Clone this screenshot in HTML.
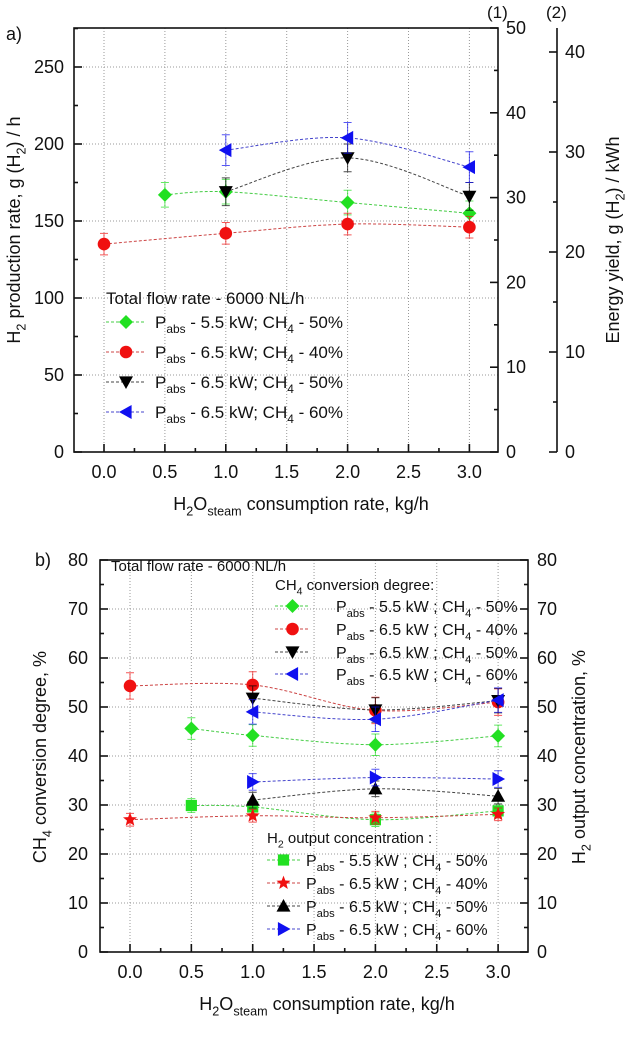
<!DOCTYPE html>
<html><head><meta charset="utf-8">
<style>
html,body{margin:0;padding:0;background:#fff;}
svg{display:block;font-family:"Liberation Sans",Arial,sans-serif;}
</style></head>
<body>
<svg id="chart" width="629" height="1058" viewBox="0 0 629 1058" xmlns="http://www.w3.org/2000/svg">
<g id="top"></g>
<g id="bot"></g>
</svg>
<script>
// ---- Chart a data ----
const xTicksA = [0,0.5,1,1.5,2,2.5,3];
const xTickLabelsA = ["0.0","0.5","1.0","1.5","2.0","2.5","3.0"];
const yTicksA = [0,50,100,150,200,250];
const y1Ticks = [0,10,20,30,40,50];
const y2Ticks = [0,10,20,30,40];
const aGreenX = [0.5,1,2,3];
const aGreenY = [167,169,162,155];
const aRedX = [0,1,2,3];
const aRedY = [135,142,148,146];
const aBlackX = [1,2,3];
const aBlackY = [169,191,166];
const aBlueX = [1,2,3];
const aBlueY = [196,204,185];
const aErr = [8,7,9,10];
// ---- Chart b data ----
const yTicksB = [0,10,20,30,40,50,60,70,80];
const bGreenX = [0.5,1,2,3];
const bGreenY = [45.6,44.2,42.3,44.1];
const bRedX = [0,1,2,3];
const bRedY = [54.3,54.5,49.3,51.0];
const bBlackX = [1,2,3];
const bBlackY = [51.8,49.4,51.3];
const bBlueX = [1,2,3];
const bBlueY = [49.0,47.5,51.4];
const hGreenX = [0.5,1,2,3];
const hGreenY = [29.9,29.6,27.0,28.8];
const hRedX = [0,1,2,3];
const hRedY = [27.0,27.8,27.4,28.1];
const hBlackX = [1,2,3];
const hBlackY = [31.0,33.3,31.8];
const hBlueX = [1,2,3];
const hBlueY = [34.7,35.6,35.3];
const bErr = [2.2,2.7,2.5,2.5,1.4,1.3,1.6,1.7];

const NS="http://www.w3.org/2000/svg";
function mk(parent,tag,attrs){const e=document.createElementNS(NS,tag);for(const k in attrs)e.setAttribute(k,attrs[k]);parent.appendChild(e);return e;}
function txt(parent,x,y,parts,size,anchor,rot){
  const t=mk(parent,'text',{x:x,y:y,'font-size':size,'text-anchor':anchor||'start',fill:'#111'});
  if(rot)t.setAttribute('transform','rotate(-90 '+x+' '+y+')');
  parts.forEach(p=>{
    const s=mk(t,'tspan',{});
    if(p[1]==='sub'){s.setAttribute('dy',size*0.3);s.setAttribute('font-size',size*0.7);}
    else if(p[1]==='up'){s.setAttribute('dy',-size*0.3);}
    s.textContent=p[0];
  });
  return t;
}
function smooth(pts){
  if(pts.length<2)return '';
  let d='M'+pts[0][0]+','+pts[0][1];
  for(let i=0;i<pts.length-1;i++){
    const p0=pts[i-1]||pts[i],p1=pts[i],p2=pts[i+1],p3=pts[i+2]||p2;
    const c1=[p1[0]+(p2[0]-p0[0])/6,p1[1]+(p2[1]-p0[1])/6];
    const c2=[p2[0]-(p3[0]-p1[0])/6,p2[1]-(p3[1]-p1[1])/6];
    d+=' C'+c1[0]+','+c1[1]+' '+c2[0]+','+c2[1]+' '+p2[0]+','+p2[1];
  }
  return d;
}
function marker(g,shape,x,y,color,s){
  let e;
  if(shape==='diamond')e=mk(g,'polygon',{points:`${x},${y-s} ${x+s},${y} ${x},${y+s} ${x-s},${y}`});
  else if(shape==='circle')e=mk(g,'circle',{cx:x,cy:y,r:s*0.9});
  else if(shape==='down')e=mk(g,'polygon',{points:`${x-s},${y-s*0.8} ${x+s},${y-s*0.8} ${x},${y+s}`});
  else if(shape==='up')e=mk(g,'polygon',{points:`${x-s},${y+s*0.8} ${x+s},${y+s*0.8} ${x},${y-s}`});
  else if(shape==='left')e=mk(g,'polygon',{points:`${x+s*0.8},${y-s} ${x+s*0.8},${y+s} ${x-s},${y}`});
  else if(shape==='right')e=mk(g,'polygon',{points:`${x-s*0.8},${y-s} ${x-s*0.8},${y+s} ${x+s},${y}`});
  else if(shape==='square')e=mk(g,'rect',{x:x-s*0.8,y:y-s*0.8,width:s*1.6,height:s*1.6});
  else if(shape==='star'){let p=[];for(let i=0;i<10;i++){const r=i%2?s*0.45:s*1.05;const a=-Math.PI/2+i*Math.PI/5;p.push((x+r*Math.cos(a)).toFixed(2)+','+(y+r*Math.sin(a)).toFixed(2));}e=mk(g,'polygon',{points:p.join(' ')});}
  e.setAttribute('fill',color);
  
  
  return e;
}
function series(g,name,xs,ys,err,X,Y,shape,color,lineColor){
  const sg=mk(g,'g',{});
  
  
  const pts=xs.map((v,i)=>[X(v),Y(ys[i])]);
  const path=mk(sg,'path',{d:smooth(pts),fill:'none',stroke:lineColor,'stroke-width':1,'stroke-dasharray':'3,2'});
  
  
  xs.forEach((v,i)=>{
    const x=X(v),yt=Y(ys[i]+err),yb=Y(ys[i]-err);
    const eb=mk(sg,'path',{d:`M${x},${yt}V${yb}M${x-4},${yt}H${x+4}M${x-4},${yb}H${x+4}`,stroke:color,'stroke-width':1,fill:'none','stroke-opacity':0.7});
    
    
  });
  pts.forEach(p=>marker(sg,shape,p[0],p[1],color,7));
}
function legendRow(g,name,x0,x1,y,shape,color,lineColor,tx,parts,size){
  const lg=mk(g,'g',{});
  
  
  mk(lg,'line',{x1:x0,x2:x1,y1:y,y2:y,stroke:lineColor,'stroke-width':1,'stroke-dasharray':'3,2'});
  marker(lg,shape,(x0+x1)/2,y,color,7);
  txt(lg,tx,y+6,parts,size,'start');
}
function legParts(p,ch){return [['P'],['abs','sub'],[' - '+p+' kW; CH','up'],['4','sub'],[' - '+ch+'%','up']];}
function legPartsB(p,ch){return [['P'],['abs','sub'],[' - '+p+' kW ; CH','up'],['4','sub'],[' - '+ch+'%','up']];}

// ================= Chart a =================
(function(){
  const g=document.getElementById('top');
  const L=74,R=498,T=28,B=452;
  const X=v=>104+v*121.8;
  const Y=v=>452-v*1.54;
  const Y1=v=>452-v*8.48;
  const Y2=v=>452-v*10.0;
  const grid=mk(g,'g',{stroke:'#999','stroke-width':1,'stroke-dasharray':'1,2'});
  
  
  xTicksA.forEach(v=>mk(grid,'line',{x1:X(v),x2:X(v),y1:T,y2:B}));
  yTicksA.forEach(v=>{if(v>0)mk(grid,'line',{x1:L,x2:R,y1:Y(v),y2:Y(v)});});
  const ax=mk(g,'g',{stroke:'#111','stroke-width':1.6,fill:'none'});
  
  
  mk(ax,'rect',{x:L,y:T,width:R-L,height:B-T});
  xTicksA.forEach(v=>mk(ax,'line',{x1:X(v),x2:X(v),y1:B,y2:B-8}));
  xTicksA.slice(0,-1).forEach(v=>mk(ax,'line',{x1:X(v+0.25),x2:X(v+0.25),y1:B,y2:B-4}));
  yTicksA.forEach(v=>mk(ax,'line',{x1:L,x2:L+8,y1:Y(v),y2:Y(v)}));
  yTicksA.forEach(v=>{if(Y(v+25)>T)mk(ax,'line',{x1:L,x2:L+4,y1:Y(v+25),y2:Y(v+25)});});
  y1Ticks.forEach(v=>mk(ax,'line',{x1:R,x2:R-8,y1:Y1(v),y2:Y1(v)}));
  y1Ticks.slice(0,-1).forEach(v=>mk(ax,'line',{x1:R,x2:R-4,y1:Y1(v+5),y2:Y1(v+5)}));
  const A2=557;
  mk(ax,'line',{x1:A2,x2:A2,y1:T,y2:B});
  y2Ticks.forEach(v=>mk(ax,'line',{x1:A2,x2:A2-8,y1:Y2(v),y2:Y2(v)}));
  y2Ticks.forEach(v=>{if(Y2(v+5)>T)mk(ax,'line',{x1:A2,x2:A2-4,y1:Y2(v+5),y2:Y2(v+5)});});
  const lab=mk(g,'g',{});
  
  
  xTicksA.forEach((v,i)=>txt(lab,X(v),478,[[xTickLabelsA[i]]],18,'middle'));
  yTicksA.forEach(v=>txt(lab,64,Y(v)+6,[[String(v)]],18,'end'));
  y1Ticks.forEach(v=>txt(lab,506,Y1(v)+6,[[String(v)]],18,'start'));
  y2Ticks.forEach(v=>txt(lab,565,Y2(v)+6,[[String(v)]],18,'start'));
  txt(g,487,18,[['(1)']],17,'start');
  txt(g,546,18,[['(2)']],17,'start');
  txt(g,6,40,[['a)']],18,'start');
  txt(g,301,510,[['H'],['2','sub'],['O','up'],['steam','sub'],[' consumption rate, kg/h','up']],18,'middle');
  txt(g,20,230,[['H'],['2','sub'],[' production rate, g (H','up'],['2','sub'],[') / h','up']],18,'middle',true);
  txt(g,619,240,[['Energy yield, g (H'],['2','sub'],[') / kWh','up']],18,'middle',true);
  series(g,'series-a-5.5kw-50',aGreenX,aGreenY,aErr[0],X,Y,'diamond','#22e022','#4c4');
  series(g,'series-a-6.5kw-40',aRedX,aRedY,aErr[1],X,Y,'circle','#f01010','#c44');
  series(g,'series-a-6.5kw-50',aBlackX,aBlackY,aErr[2],X,Y,'down','#000','#444');
  series(g,'series-a-6.5kw-60',aBlueX,aBlueY,aErr[3],X,Y,'left','#1010f0','#44c');
  const lg=mk(g,'g',{});
  
  
  txt(lg,106,304,[['Total flow rate - 6000 NL/h']],17,'start');
  legendRow(lg,'legend-entry-5.5kw-50',106,146,322,'diamond','#22e022','#4c4',155,legParts('5.5','50'),17);
  legendRow(lg,'legend-entry-6.5kw-40',106,146,352,'circle','#f01010','#c44',155,legParts('6.5','40'),17);
  legendRow(lg,'legend-entry-6.5kw-50',106,146,382,'down','#000','#444',155,legParts('6.5','50'),17);
  legendRow(lg,'legend-entry-6.5kw-60',106,146,412,'left','#1010f0','#44c',155,legParts('6.5','60'),17);
})();

// ================= Chart b =================
(function(){
  const g=document.getElementById('bot');
  const L=100,R=528,T=560,B=952;
  const X=v=>130+v*122.7;
  const Y=v=>952-v*4.9;
  const grid=mk(g,'g',{stroke:'#999','stroke-width':1,'stroke-dasharray':'1,2'});
  
  
  xTicksA.forEach(v=>mk(grid,'line',{x1:X(v),x2:X(v),y1:T,y2:B}));
  yTicksB.forEach(v=>{if(v>0&&v<80)mk(grid,'line',{x1:L,x2:R,y1:Y(v),y2:Y(v)});});
  const ax=mk(g,'g',{stroke:'#111','stroke-width':1.6,fill:'none'});
  
  
  mk(ax,'rect',{x:L,y:T,width:R-L,height:B-T});
  xTicksA.forEach(v=>mk(ax,'line',{x1:X(v),x2:X(v),y1:B,y2:B-8}));
  xTicksA.slice(0,-1).forEach(v=>mk(ax,'line',{x1:X(v+0.25),x2:X(v+0.25),y1:B,y2:B-4}));
  yTicksB.forEach(v=>{mk(ax,'line',{x1:L,x2:L+8,y1:Y(v),y2:Y(v)});mk(ax,'line',{x1:R,x2:R-8,y1:Y(v),y2:Y(v)});});
  yTicksB.slice(0,-1).forEach(v=>{mk(ax,'line',{x1:L,x2:L+4,y1:Y(v+5),y2:Y(v+5)});mk(ax,'line',{x1:R,x2:R-4,y1:Y(v+5),y2:Y(v+5)});});
  const lab=mk(g,'g',{});
  
  
  xTicksA.forEach((v,i)=>txt(lab,X(v),978,[[xTickLabelsA[i]]],18,'middle'));
  yTicksB.forEach(v=>txt(lab,88,Y(v)+6,[[String(v)]],18,'end'));
  yTicksB.forEach(v=>txt(lab,537,Y(v)+6,[[String(v)]],18,'start'));
  txt(g,35,566,[['b)']],18,'start');
  txt(g,327,1010,[['H'],['2','sub'],['O','up'],['steam','sub'],[' consumption rate, kg/h','up']],18,'middle');
  txt(g,46,757,[['CH'],['4','sub'],[' conversion degree, %','up']],18,'middle',true);
  txt(g,585,757,[['H'],['2','sub'],[' output concentration, %','up']],18,'middle',true);
  series(g,'series-b-conv-5.5kw-50',bGreenX,bGreenY,bErr[0],X,Y,'diamond','#22e022','#4c4');
  series(g,'series-b-conv-6.5kw-40',bRedX,bRedY,bErr[1],X,Y,'circle','#f01010','#c44');
  series(g,'series-b-conv-6.5kw-50',bBlackX,bBlackY,bErr[2],X,Y,'down','#000','#444');
  series(g,'series-b-conv-6.5kw-60',bBlueX,bBlueY,bErr[3],X,Y,'left','#1010f0','#44c');
  series(g,'series-b-h2-5.5kw-50',hGreenX,hGreenY,bErr[4],X,Y,'square','#22e022','#4c4');
  series(g,'series-b-h2-6.5kw-40',hRedX,hRedY,bErr[5],X,Y,'star','#f01010','#c44');
  series(g,'series-b-h2-6.5kw-50',hBlackX,hBlackY,bErr[6],X,Y,'up','#000','#444');
  series(g,'series-b-h2-6.5kw-60',hBlueX,hBlueY,bErr[7],X,Y,'right','#1010f0','#44c');
  const lg=mk(g,'g',{});
  
  
  txt(lg,111,571,[['Total flow rate - 6000 NL/h']],15,'start');
  txt(lg,275,590,[['CH'],['4','sub'],[' conversion degree:','up']],15,'start');
  legendRow(lg,'legend-entry-conv-5.5kw-50',275,310,606,'diamond','#22e022','#4c4',336,legPartsB('5.5','50'),16);
  legendRow(lg,'legend-entry-conv-6.5kw-40',275,310,629,'circle','#f01010','#c44',336,legPartsB('6.5','40'),16);
  legendRow(lg,'legend-entry-conv-6.5kw-50',275,310,652,'down','#000','#444',336,legPartsB('6.5','50'),16);
  legendRow(lg,'legend-entry-conv-6.5kw-60',275,310,674,'left','#1010f0','#44c',336,legPartsB('6.5','60'),16);
  txt(lg,267,843,[['H'],['2','sub'],[' output concentration :','up']],15,'start');
  legendRow(lg,'legend-entry-h2-5.5kw-50',267,300,860,'square','#22e022','#4c4',306,legPartsB('5.5','50'),16);
  legendRow(lg,'legend-entry-h2-6.5kw-40',267,300,883,'star','#f01010','#c44',306,legPartsB('6.5','40'),16);
  legendRow(lg,'legend-entry-h2-6.5kw-50',267,300,906,'up','#000','#444',306,legPartsB('6.5','50'),16);
  legendRow(lg,'legend-entry-h2-6.5kw-60',267,300,929,'right','#1010f0','#44c',306,legPartsB('6.5','60'),16);
})();
</script>
</body></html>
